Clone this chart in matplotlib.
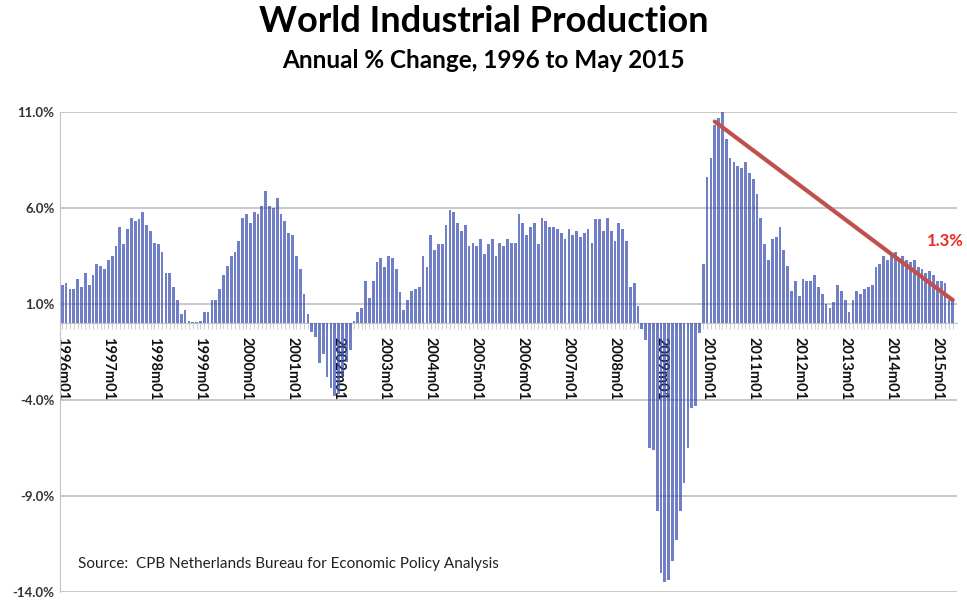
# World industrial production, annual % change, monthly 1996m01 - 2015m05
import numpy as np
import matplotlib
matplotlib.use('Agg')
import matplotlib.pyplot as plt

plt.rcParams['font.family'] = ['Lato', 'DejaVu Sans']

# values, one per month
y1996 = [2.0, 2.1, 1.8, 1.8, 2.3, 1.9, 2.6, 2.0, 2.5, 3.1, 3.0, 2.8]
y1997 = [3.3, 3.5, 4.0, 5.0, 4.1, 4.9, 5.5, 5.3, 5.4, 5.8, 5.1, 4.8]
y1998 = [4.2, 4.1, 3.7, 2.6, 2.6, 1.9, 1.2, 0.5, 0.7, 0.1, 0.05, 0.05]
y1999 = [0.1, 0.6, 0.6, 1.2, 1.2, 1.8, 2.5, 3.0, 3.5, 3.7, 4.3, 5.5]
y2000 = [5.7, 5.2, 5.8, 5.7, 6.1, 6.9, 6.1, 6.0, 6.5, 5.7, 5.3, 4.7]
y2001 = [4.6, 3.5, 2.8, 1.5, 0.5, -0.45, -0.7, -2.1, -1.6, -2.8, -3.4, -3.8]
y2002 = [-3.7, -2.8, -2.0, -1.4, 0.1, 0.6, 0.8, 2.2, 1.3, 2.2, 3.2, 3.4]
y2003 = [2.9, 3.5, 3.4, 2.8, 1.6, 0.7, 1.2, 1.7, 1.8, 1.9, 3.5, 2.9]
y2004 = [4.6, 3.8, 4.1, 4.1, 5.1, 5.9, 5.8, 5.2, 4.8, 5.1, 4.0, 4.2]
y2005 = [4.0, 4.4, 3.6, 4.1, 4.4, 3.5, 4.2, 4.0, 4.4, 4.2, 4.2, 5.7]
y2006 = [5.2, 4.6, 5.0, 5.2, 4.1, 5.5, 5.3, 5.0, 5.0, 4.9, 4.7, 4.4]
y2007 = [4.9, 4.6, 4.8, 4.5, 4.7, 4.9, 4.2, 5.4, 5.4, 4.8, 5.5, 4.8]
y2008 = [4.3, 5.2, 4.9, 4.3, 1.9, 2.1, 0.9, -0.3, -0.9, -6.5, -6.6, -9.8]
y2009 = [-13.0, -13.5, -13.4, -12.4, -11.3, -9.8, -8.3, -6.5, -4.4, -4.3, -0.5, 3.1]
y2010 = [7.6, 8.6, 10.3, 10.7, 11.2, 9.6, 8.6, 8.4, 8.2, 8.1, 8.4, 7.8]
y2011 = [7.5, 6.7, 5.5, 4.1, 3.3, 4.4, 4.5, 5.0, 3.8, 3.0, 1.7, 2.2]
y2012 = [1.4, 2.3, 2.2, 2.2, 2.5, 1.9, 1.5, 1.0, 0.8, 1.1, 2.0, 1.7]
y2013 = [1.2, 0.6, 1.2, 1.7, 1.5, 1.8, 1.9, 2.0, 2.9, 3.1, 3.5, 3.3]
y2014 = [3.5, 3.7, 3.4, 3.5, 3.3, 3.2, 3.3, 2.9, 2.8, 2.6, 2.7, 2.5]
y2015 = [2.2, 2.2, 2.1, 1.2, 1.3]

growth = (y1996 + y1997 + y1998 + y1999 + y2000 + y2001 + y2002 + y2003 + y2004 +
          y2005 + y2006 + y2007 + y2008 + y2009 + y2010 + y2011 + y2012 + y2013 +
          y2014 + y2015)
years = list(range(1996, 2016))
year_labels = ['%dm01' % y for y in years]

# hand drawn trend line: from 2010m03 peak to 2015m05
trend_month = [170, 232]
trend_value = [10.5, 1.2]
last_label = '1.3%'

x = np.arange(len(growth))

fig = plt.figure(figsize=(9.67, 6.05), dpi=100)
ax = fig.add_axes([0.062, 0.0215, 0.928, 0.7935])

ax.set_ylim(-14, 11)
ax.set_xlim(-0.6, len(growth) + 0.2)
yt = [11, 6, 1, -4, -9, -14]
ax.set_yticks(yt)
ax.set_yticklabels(['%.1f%%' % v for v in yt], fontsize=9.5, fontweight='bold',
                   color='#333333')
for v in yt:
    ax.axhline(v, color='#c4c4c4', lw=1.3, zorder=1)

ax.bar(x, growth, width=0.72, color='#3a4fb0', alpha=0.72, zorder=2)

ax.plot(trend_month, trend_value, color='#c0504d', lw=3, solid_capstyle='round', zorder=3)
fig.text(945 / 967, 1 - 241 / 605, last_label, color='#ee2a24', fontsize=12,
         fontweight='bold', ha='center', va='center')

# axis at zero with month ticks, year labels rotated
for s in ['top', 'right']:
    ax.spines[s].set_visible(False)
ax.spines['bottom'].set_position(('data', 0))
ax.spines['bottom'].set_color('#c4c4c4')
ax.spines['bottom'].set_zorder(1)
ax.spines['left'].set_color('#c4c4c4')
ax.set_xticks(np.arange(0, len(growth), 12))
ax.set_xticklabels(year_labels, rotation=-90, fontsize=10.5, fontweight='bold',
                   color='#111111')
ax.set_xticks(x, minor=True)
ax.tick_params(axis='x', which='both', length=4, color='#c8c8c8', pad=6)
ax.tick_params(axis='y', length=0, pad=4)

fig.text(0.5, 0.965, 'World Industrial Production', ha='center', va='center',
         fontsize=26, fontweight='bold')
fig.text(0.5, 0.9, 'Annual % Change, 1996 to May 2015', ha='center', va='center',
         fontsize=17.5, fontweight='bold')
fig.text(0.081, 0.068, 'Source:  CPB Netherlands Bureau for Economic Policy Analysis',
         ha='left', va='center', fontsize=11, color='#222222')

fig.savefig('out.png', dpi=100)
